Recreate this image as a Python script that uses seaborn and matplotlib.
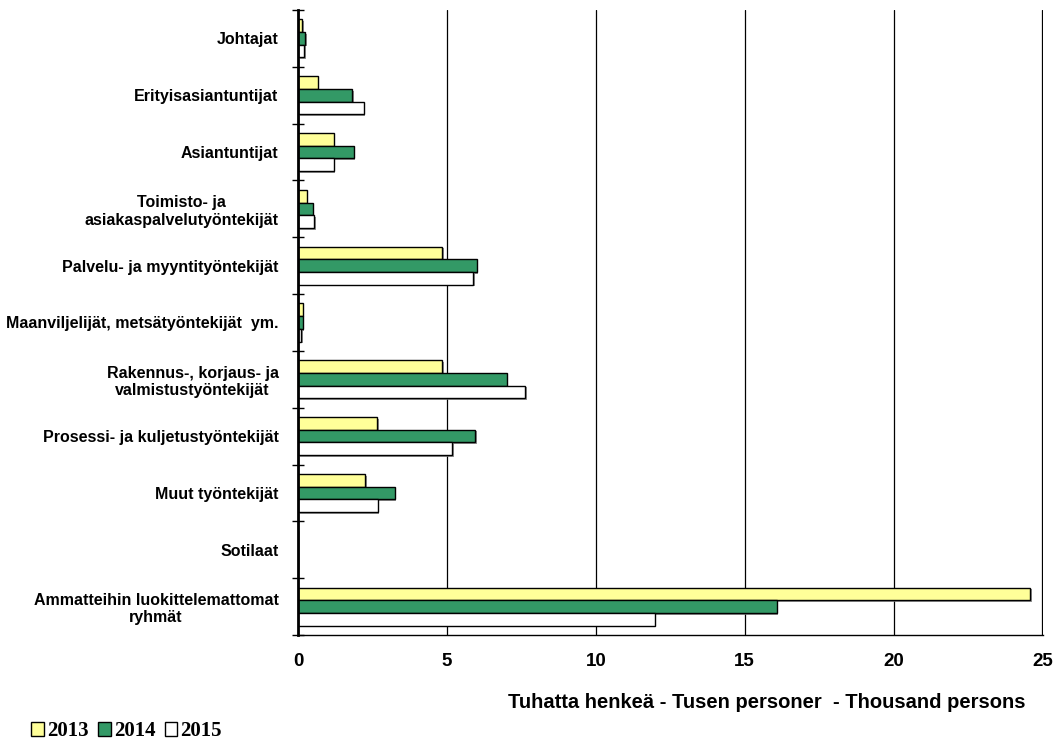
import pandas as pd
import matplotlib.pyplot as plt
import matplotlib.patheffects as pe
from matplotlib.patches import Patch
from matplotlib.ticker import FixedLocator
import seaborn as sns

categories = ['Johtajat', 'Erityisasiantuntijat', 'Asiantuntijat',
              'Toimisto- ja\nasiakaspalvelutyöntekijät',
              'Palvelu- ja myyntityöntekijät',
              'Maanviljelijät, metsätyöntekijät  ym.',
              'Rakennus-, korjaus- ja\nvalmistustyöntekijät',
              'Prosessi- ja kuljetustyöntekijät',
              'Muut työntekijät', 'Sotilaat',
              'Ammatteihin luokittelemattomat\nryhmät']
years = ['2013', '2014', '2015']
v2013 = [0.14, 0.66, 1.2, 0.29, 4.84, 0.16, 4.84, 2.66, 2.26, 0.0, 24.6]
v2014 = [0.25, 1.83, 1.87, 0.49, 6.0, 0.16, 7.01, 5.96, 3.25, 0.0, 16.07]
v2015 = [0.2, 2.2, 1.2, 0.55, 5.88, 0.1, 7.64, 5.18, 2.67, 0.0, 11.98]
colors = ['#FFFF99', '#339966', '#FFFFFF']

df = pd.DataFrame({
    'ammatti': categories * 3,
    'vuosi': [y for y in years for _ in categories],
    'arvo': v2013 + v2014 + v2015,
})

sns.set_style('white')
plt.rcParams['font.family'] = ['Liberation Sans', 'DejaVu Sans']
plt.rcParams['text.color'] = 'black'
plt.rcParams['xtick.color'] = 'black'
plt.rcParams['ytick.color'] = 'black'

fig = plt.figure(figsize=(10.57, 7.51), dpi=100)
ax = fig.add_axes([298 / 1057, 1 - 635 / 751, 745 / 1057, 625 / 751])

sns.barplot(data=df, x='arvo', y='ammatti', hue='vuosi', orient='h',
            palette=colors, width=0.67, edgecolor='black', linewidth=1,
            saturation=1, legend=False, ax=ax)
for p in ax.patches:
    p.set_path_effects([pe.SimplePatchShadow(offset=(1.2, -1.2), shadow_rgbFace='#777777', alpha=0.8),
                        pe.Normal()])

ax.set_xlim(0, 25.02)
ax.set_ylim(10.5, -0.5)
ax.set_xticks([0, 5, 10, 15, 20, 25])
ax.set_xticklabels(['0', '5', '10', '15', '20', '25'], fontsize=13.5, fontweight='bold')
ax.xaxis.grid(True, color='black', linewidth=0.9)
ax.set_axisbelow(True)
ax.tick_params(axis='x', length=0, pad=13)

ax.set_yticks(range(len(categories)))
ax.set_yticklabels(categories, fontsize=11.5, fontweight='bold', multialignment='center')
ax.tick_params(axis='y', which='major', left=False, length=0, pad=14)
ax.yaxis.set_minor_locator(FixedLocator([i + 0.5 for i in range(-1, len(categories))]))
ax.tick_params(axis='y', which='minor', left=True, length=8, width=1, color='black', direction='inout')

for s in ['top', 'right']:
    ax.spines[s].set_visible(False)
ax.spines['left'].set_linewidth(2)
ax.spines['left'].set_color('black')
ax.spines['bottom'].set_linewidth(1)
ax.spines['bottom'].set_color('black')
ax.set_xlabel('')
ax.set_ylabel('')

fig.text(1025 / 1057, 1 - 703 / 751, 'Tuhatta henkeä - Tusen personer  - Thousand persons',
         ha='right', va='center', fontsize=14.5, fontweight='bold')

handles = [Patch(facecolor=c, edgecolor='black', linewidth=1) for c in colors]
fig.legend(handles, years, loc='lower left', bbox_to_anchor=(0.012, -0.012), ncol=3,
           frameon=False, handlelength=0.6, handleheight=0.6, handletextpad=0.15,
           columnspacing=0.45, prop={'family': 'Liberation Serif', 'weight': 'bold', 'size': 15})

fig.savefig('out.png', dpi=100, facecolor='white')
